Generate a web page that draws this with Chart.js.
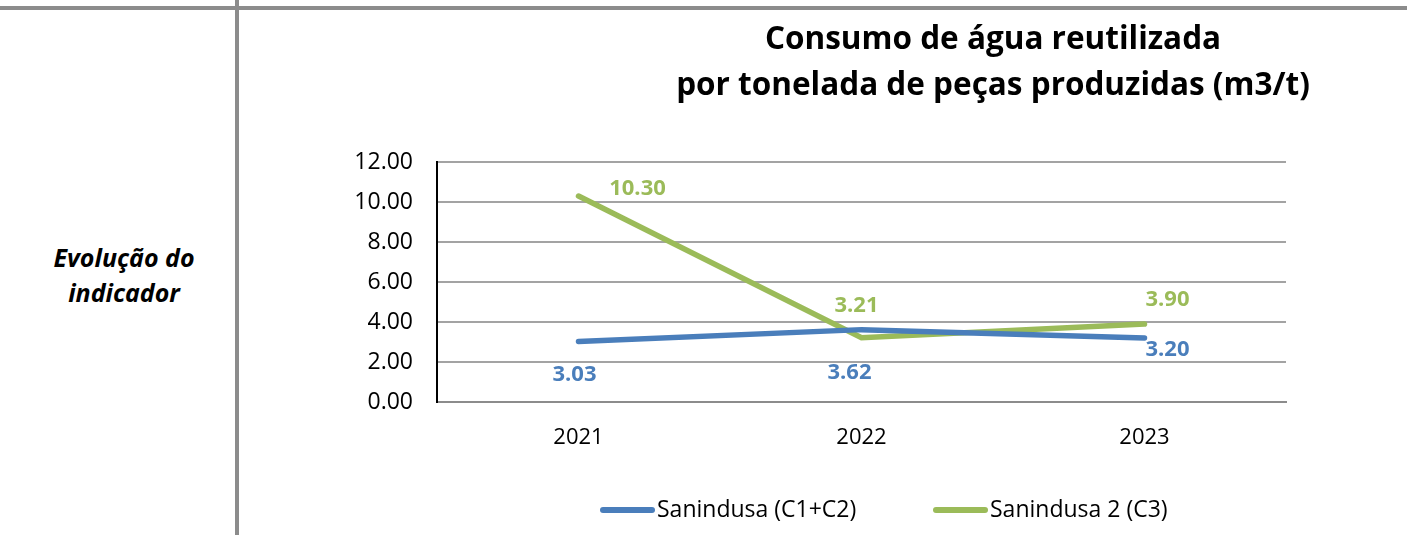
<!DOCTYPE html>
<html lang="pt">
<head>
<meta charset="utf-8">
<title>Consumo de água reutilizada</title>
<script src="https://cdn.jsdelivr.net/npm/chart.js@4.4.1/dist/chart.umd.min.js"></script>
<style>
  html, body { margin: 0; padding: 0; background: #fff; width: 1407px; height: 535px; overflow: hidden; }
  .linha-topo { position: absolute; left: 0; top: 6px; width: 1407px; height: 4px; background: #8c8c8c; }
  .linha-vert { position: absolute; left: 235px; top: 0; width: 4px; height: 535px; background: #8c8c8c; }
  .rotulo { position: absolute; left: 0; width: 248px; top: 240px; text-align: center;
            font: italic bold 25px "Open Sans", sans-serif; line-height: 35px; color: #000; }
  .grafico { position: absolute; left: 240px; top: 0; width: 1167px; height: 535px; }
</style>
</head>
<body>
<div class="linha-topo"></div>
<div class="linha-vert"></div>
<div class="rotulo">Evolução do<br>indicador</div>
<div class="grafico"><canvas id="consumoChart"></canvas></div>

<script>
// dados
const anos = ['2021', '2022', '2023'];
const sanindusa = [3.03, 3.62, 3.20];     // Sanindusa (C1+C2)
const sanindusa2 = [10.30, 3.21, 3.90];   // Sanindusa 2 (C3)
const yMin = 0;
const yMax = 12;
const yPasso = 2;

const azul = '#4a7ebb';
const verde = '#9bbb59';

// deslocamento de cada etiqueta em relação ao ponto (px)
const desvios = [
    [[-4, 33], [-12, 43], [23, 12]],
    [[59, -7], [-5, -32], [23, -24]]
];

// etiquetas de valor sobre os pontos
const etiquetas = {
    id: 'etiquetas',
    afterDatasetsDraw(chart) {
        const ctx = chart.ctx;
        ctx.save();
        ctx.font = 'bold 22px "Open Sans"';
        ctx.textAlign = 'center';
        ctx.textBaseline = 'middle';
        chart.data.datasets.forEach((ds, i) => {
            const meta = chart.getDatasetMeta(i);
            ctx.fillStyle = ds.borderColor;
            meta.data.forEach((pt, j) => {
                const d = desvios[i][j];
                ctx.fillText(ds.data[j].toFixed(2), pt.x + d[0], pt.y + d[1]);
            });
        });
        ctx.restore();
    }
};

// legenda desenhada à mão (posições como no original)
const legenda = {
    id: 'legenda',
    afterLayout(chart) {
        // título centrado mais à direita, como no original
        if (chart.titleBlock) {
            chart.titleBlock.left += 230;
            chart.titleBlock.right += 230;
        }
    },
    afterDraw(chart) {
        const ctx = chart.ctx;
        const xs = [360, 693];
        const y = 510;
        ctx.save();
        ctx.font = '23px "Open Sans"';
        ctx.textBaseline = 'middle';
        ctx.textAlign = 'left';
        chart.data.datasets.forEach((ds, i) => {
            ctx.strokeStyle = ds.borderColor;
            ctx.lineWidth = 6;
            ctx.lineCap = 'round';
            ctx.beginPath();
            ctx.moveTo(xs[i] + 3, y);
            ctx.lineTo(xs[i] + 52, y);
            ctx.stroke();
            ctx.fillStyle = '#000';
            ctx.fillText(ds.label, xs[i] + 57, y);
        });
        ctx.restore();
    }
};

const ctx = document.getElementById('consumoChart').getContext('2d');

new Chart(ctx, {
    type: 'line',
    data: {
        labels: anos,
        datasets: [{
            label: 'Sanindusa (C1+C2)',
            data: sanindusa,
            borderColor: azul,
            backgroundColor: azul,
            borderWidth: 5.5,
            borderCapStyle: 'round',
            pointRadius: 0,
            tension: 0
        }, {
            label: 'Sanindusa 2 (C3)',
            data: sanindusa2,
            borderColor: verde,
            backgroundColor: verde,
            borderWidth: 5.5,
            borderCapStyle: 'round',
            pointRadius: 0,
            tension: 0
        }]
    },
    options: {
        responsive: true,
        maintainAspectRatio: false,
        animation: false,
        layout: {
            padding: { left: 0, right: 121, top: 0, bottom: 0 }
        },
        plugins: {
            legend: { display: false },
            tooltip: { enabled: false },
            title: {
                display: true,
                text: ['Consumo de água reutilizada', 'por tonelada de peças produzidas (m3/t)'],
                color: '#000',
                font: { family: 'Open Sans', size: 31.5, weight: 'bold', lineHeight: 1.43 },
                padding: { top: 18, bottom: 54 }
            }
        },
        scales: {
            x: {
                offset: true,
                grid: { display: false, drawTicks: false },
                border: { display: true, color: '#8c8c8c', width: 2 },
                ticks: {
                    color: '#000',
                    padding: 23,
                    font: { family: 'Open Sans', size: 22 }
                },
                afterFit(scale) {
                    scale.height = 133;
                }
            },
            y: {
                min: yMin,
                max: yMax,
                grid: { color: '#a3a3a3', lineWidth: 2, drawTicks: false },
                border: { display: true, color: '#000', width: 2 },
                ticks: {
                    stepSize: yPasso,
                    color: '#000',
                    padding: 24,
                    font: { family: 'Open Sans', size: 23 },
                    callback: (v) => v.toFixed(2)
                },
                afterFit(scale) {
                    scale.width = 197;
                }
            }
        }
    },
    plugins: [etiquetas, legenda]
});
</script>
</body>
</html>
